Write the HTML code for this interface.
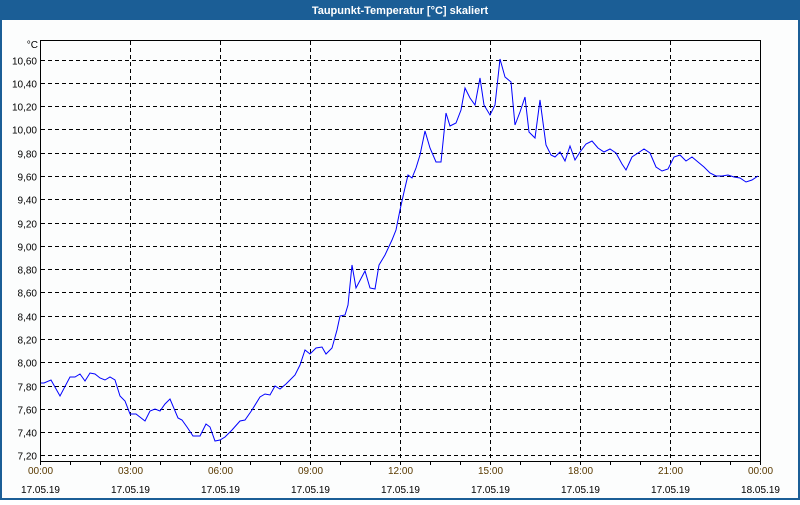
<!DOCTYPE html>
<html><head><meta charset="utf-8"><style>
html,body{margin:0;padding:0;background:#fff}
body{width:800px;height:500px;overflow:hidden;font-family:"Liberation Sans","DejaVu Sans",sans-serif}
</style></head><body>
<svg width="800" height="500" xmlns="http://www.w3.org/2000/svg" font-family="Liberation Sans, DejaVu Sans, sans-serif">
<rect x="0" y="0" width="800" height="500" fill="#1b5e96"/>
<rect x="2" y="20" width="796" height="478" fill="#fcfdfd"/>
<text x="400" y="14" text-anchor="middle" fill="#fff" font-size="11" font-weight="bold">Taupunkt-Temperatur [°C] skaliert</text>
<g id="grid" stroke="#000" stroke-dasharray="4,3" stroke-width="1"></g>
<g id="lbl" font-size="10" fill="#000"></g>
<polyline id="d" fill="none" stroke="#0000ff" stroke-width="1"/>
<path d="M40.5 40 V461.5 H760.5 V40 M40 40.5 H761" fill="none" stroke="#000" stroke-width="1"/>
<text x="38" y="48" text-anchor="end" font-size="10">°C</text>
</svg>
<script>
var ns="http://www.w3.org/2000/svg",g=document.getElementById('grid'),l=document.getElementById('lbl');
function el(p,t,a){var e=document.createElementNS(ns,t);for(var k in a)e.setAttribute(k,a[k]);p.appendChild(e);return e;}
for(var i=0;i<=17;i++){var v=10.6-i*0.2,y=Math.round(59.5+i*23.29)+0.5;
el(g,'line',{x1:41,x2:760,y1:y,y2:y});
var t=el(l,'text',{x:37,y:y+4,'text-anchor':'end'});t.textContent=v.toFixed(2).replace('.',',');}
var dates=['17.05.19','17.05.19','17.05.19','17.05.19','17.05.19','17.05.19','17.05.19','17.05.19','18.05.19'];
for(var j=0;j<=8;j++){var x=40.5+j*90;
if(j>0&&j<8)el(g,'line',{x1:x,x2:x,y1:41,y2:461});
var a=el(l,'text',{x:x,y:474,'text-anchor':'middle',fill:'#5a3a00'});a.textContent=(('0'+(j*3%24)).slice(-2))+':00';
var b=el(l,'text',{x:x,y:493,'text-anchor':'middle'});b.textContent=dates[j];}
for(var h=0;h<=24;h++){el(document.querySelector('svg'),'line',{x1:40.5+h*30,x2:40.5+h*30,y1:462,y2:465,stroke:'#000'});}
var pts=[[40,383],[44,383],[51,380],[60,396],[70,377],[75,377],[80,374],[85,381],[90,373],[95,374],[100,378],[105,380],[110,377],[115,380],[120,396],[125,401],[130,414],[136,414],[145,421],[150,411],[155,409],[160,411],[165,404],[170,399],[178,418],[182,420],[187,427],[193,436],[200,436],[206,424],[210,427],[215,441],[220,440],[225,437],[232,430],[240,421],[245,420],[252,410],[260,397],[265,394],[270,395],[275,386],[280,389],[286,384],[295,375],[300,365],[305,350],[310,354],[316,348],[322,347],[326,354],[332,348],[337,330],[340,316],[345,315],[348,305],[352,265],[356,288],[365,271],[370,288],[375,289],[379,265],[385,255],[392,240],[396,230],[400,210],[404,192],[408,175],[412,178],[416,168],[420,155],[425,131],[430,148],[436,162],[441,162],[446,113],[450,126],[456,123],[461,110],[465,88],[470,98],[475,105],[480,78],[484,105],[490,115],[495,105],[500,59],[505,77],[511,82],[515,125],[520,112],[525,97],[529,132],[535,138],[540,100],[546,145],[551,155],[555,157],[560,152],[565,161],[570,146],[575,160],[580,152],[586,144],[592,141],[598,148],[604,152],[610,149],[616,153],[622,164],[626,170],[632,157],[638,153],[644,149],[650,153],[656,167],[662,171],[668,169],[674,157],[680,155],[686,161],[692,157],[698,162],[704,167],[710,173],[716,176],[722,176],[728,175],[734,177],[740,178],[746,182],[752,180],[758,176]];
document.getElementById('d').setAttribute('points',pts.map(function(p){return p.join(',')}).join(' '));
</script>
</body></html>
